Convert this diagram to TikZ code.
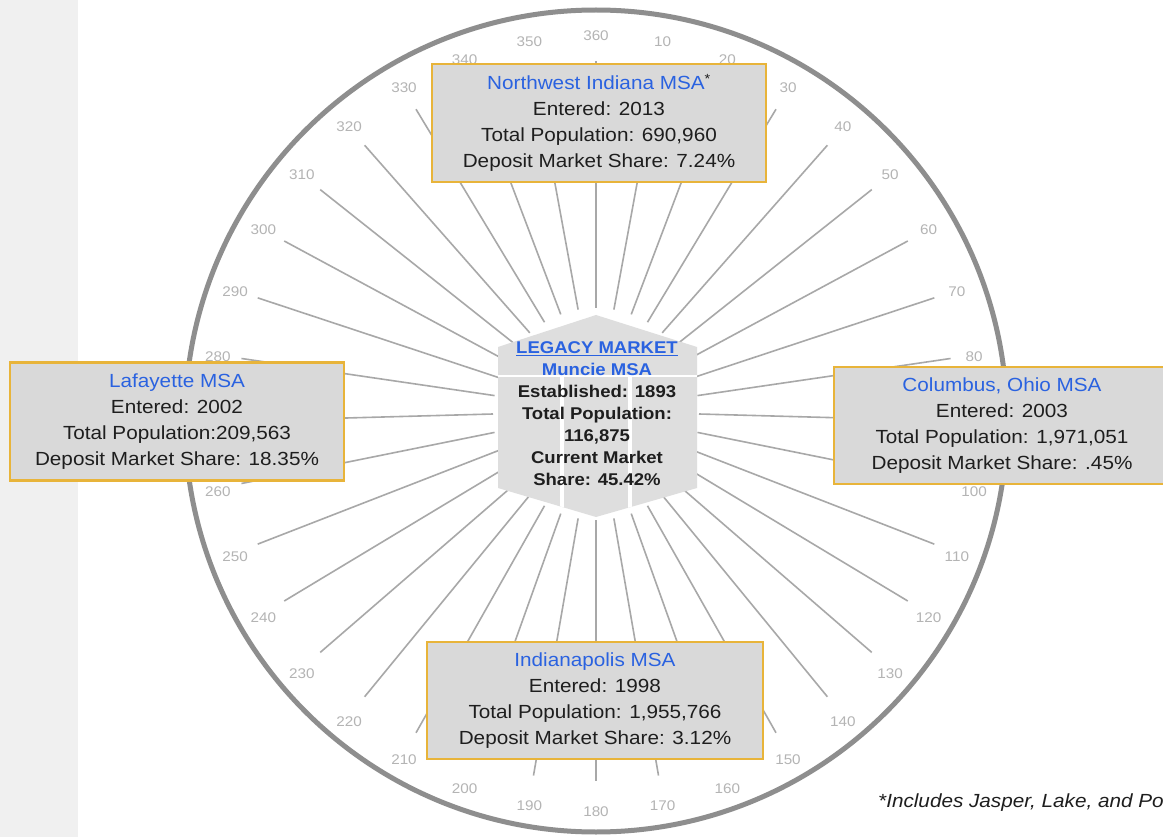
\documentclass[tikz,border=0pt]{standalone}
\usepackage{fontspec}
\setmainfont{Liberation Sans}
\newfontfamily\df[FakeStretch=1.09]{Liberation Sans}
\usetikzlibrary{calc}
\definecolor{gold}{HTML}{E8B43A}
\definecolor{boxgrey}{HTML}{D9D9D9}
\definecolor{hexgrey}{HTML}{DEDEDE}
\definecolor{titleblue}{HTML}{2A62E0}
\definecolor{raygrey}{HTML}{A8A8A8}
\definecolor{ticklbl}{HTML}{B4B4B4}
\definecolor{rimgrey}{HTML}{8E8E8E}
\definecolor{stripgrey}{HTML}{F0F0F0}
\definecolor{txt}{HTML}{1E1E1E}
\begin{document}
\begin{tikzpicture}[x=1pt,y=-1pt,
  msabox/.style={draw=gold, line width=2.5pt, fill=boxgrey, minimum width=334pt,
    minimum height=118pt, inner sep=0pt, align=center,
    font=\df\fontsize{19}{26}\selectfont, text=txt},
  ticklabel/.style={text=ticklbl, font=\df\fontsize{14}{14}\selectfont, inner sep=0pt},
  ray/.style={draw=raygrey, line width=1.6pt},
  rim/.style={draw=rimgrey, line width=5pt},
  ttl/.style={text=titleblue}]
\useasboundingbox (0,0) rectangle (1163,837);
\clip (0,0) rectangle (1163,837);
\fill[white] (0,0) rectangle (1163,837);
\fill[stripgrey] (0,0) rectangle (78,837);
% outer rim
\draw[rim] (596,421) circle[radius=411];
% rays
\foreach \a in {0,10,...,350}{
  \draw[ray] ({596+103*sin(\a)},{414-106*cos(\a)}) -- ({596+360*sin(\a)},{421-360*cos(\a)});
}
% degree labels (90 and 270 lie wholly under the side boxes)
\foreach \a in {0,10,...,80,100,110,...,260,280,290,...,350}{
  \pgfmathtruncatemacro\lbl{\a==0 ? 360 : \a}
  \node[ticklabel] (deg\lbl) at ({596+384*sin(\a)},{424-388*cos(\a)}) {\lbl};
}
% central logo
\fill[hexgrey] (596,315) -- (697,347) -- (697,488) -- (596,517) -- (498,488) -- (498,347) -- cycle;
\begin{scope}
  \clip (596,315) -- (697,347) -- (697,488) -- (596,517) -- (498,488) -- (498,347) -- cycle;
  \draw[white, line width=1.5pt] (498,376) -- (697,376);
  \draw[white, line width=3.5pt] (562,377) -- (562,530) (630,377) -- (630,530);
\end{scope}
\node[align=center, font=\df\bfseries\fontsize{17}{22}\selectfont, text=txt, inner sep=0pt] (legacy) at (597,413.5)
  {\textcolor{titleblue}{\underline{LEGACY MARKET}}\\
   \textcolor{titleblue}{Muncie MSA}\\
   Established: 1893\\
   Total Population:\\
   116,875\\
   Current Market\\
   Share: 45.42\%};
% MSA boxes
\node[msabox] (nwi) at (599,123)
  {\textcolor{titleblue}{Northwest Indiana MSA}\textsuperscript{*}\\
   Entered: 2013\\
   Total Population: 690,960\\
   Deposit Market Share: 7.24\%};
\node[msabox] (laf) at (177,421.5)
  {\textcolor{titleblue}{Lafayette MSA}\\
   Entered: 2002\\
   Total Population:209,563\\
   Deposit Market Share: 18.35\%};
\node[msabox, minimum width=336pt, minimum height=117pt] (col) at (1002,425.5)
  {\textcolor{titleblue}{Columbus, Ohio MSA}\\
   Entered: 2003\\
   Total Population: 1,971,051\\
   Deposit Market Share: .45\%};
\node[msabox, minimum width=336pt, minimum height=117pt] (ind) at (595,700.5)
  {\textcolor{titleblue}{Indianapolis MSA}\\
   Entered: 1998\\
   Total Population: 1,955,766\\
   Deposit Market Share: 3.12\%};
% footnote
\node[anchor=west, font=\df\itshape\fontsize{19}{19}\selectfont, text=txt, inner sep=0pt] (note) at (878,803)
  {*Includes Jasper, Lake, and Po};
\end{tikzpicture}
\end{document}
